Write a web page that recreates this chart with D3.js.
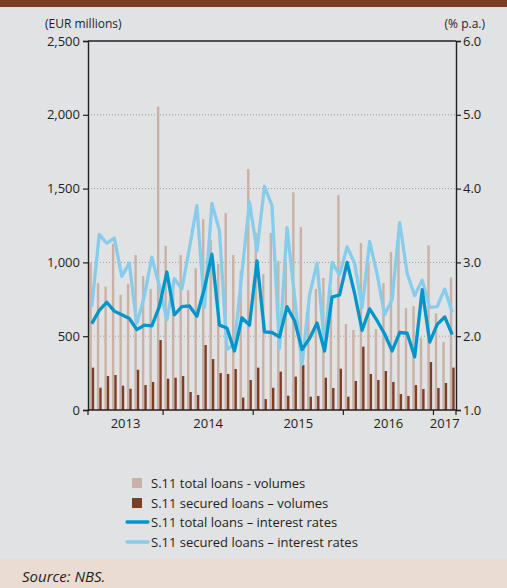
<!DOCTYPE html>
<html>
<head>
<meta charset="utf-8">
<script src="https://cdn.jsdelivr.net/npm/d3@7"></script>
<style>
  html, body { margin: 0; padding: 0; background: #e1e2e4; }
  svg { display: block; }
  text { font-family: "Open Sans", "Noto Sans", sans-serif; fill: #231f20; }
</style>
</head>
<body>
<svg id="chart" width="507" height="588"></svg>
<script>
// Monthly data, March 2013 – March 2017
const months = [
  "2013-03","2013-04","2013-05","2013-06","2013-07","2013-08","2013-09","2013-10","2013-11","2013-12",
  "2014-01","2014-02","2014-03","2014-04","2014-05","2014-06","2014-07","2014-08","2014-09","2014-10","2014-11","2014-12",
  "2015-01","2015-02","2015-03","2015-04","2015-05","2015-06","2015-07","2015-08","2015-09","2015-10","2015-11","2015-12",
  "2016-01","2016-02","2016-03","2016-04","2016-05","2016-06","2016-07","2016-08","2016-09","2016-10","2016-11","2016-12",
  "2017-01","2017-02","2017-03"
];

// S.11 total loans - volumes (EUR millions)
const totalVolumes = [
  1000, 860, 835, 1125, 780, 855, 1050, 907, 820, 2054,
  1112, 880, 1050, 812, 960, 1294, 1150, 990, 1335, 1050, 945, 1632,
  1200, 921, 1200, 1010, 1000, 1475, 1240, 700, 820, 895, 813, 1456,
  582, 542, 1132, 1000, 548, 860, 1070, 1150, 690, 704, 489, 1116,
  655, 460, 898
];

// S.11 secured loans – volumes (EUR millions)
const securedVolumes = [
  287, 151, 230, 237, 165, 144, 273, 169, 190, 474,
  212, 219, 230, 122, 102, 440, 345, 250, 244, 278, 84, 203,
  287, 74, 151, 260, 97, 226, 305, 90, 95, 219, 149, 280,
  90, 196, 429, 244, 203, 264, 190, 108, 95, 169, 142, 325,
  149, 183, 287
];

// S.11 total loans – interest rates (% p.a.)
const totalRates = [
  2.17, 2.35, 2.46, 2.34, 2.29, 2.24, 2.09, 2.15, 2.14, 2.40,
  2.87, 2.29, 2.40, 2.41, 2.27, 2.65, 3.11, 2.15, 2.11, 1.80, 2.25, 2.15,
  3.02, 2.06, 2.05, 1.99, 2.40, 2.21, 1.82, 1.97, 2.18, 1.80, 2.53, 2.56,
  3.00, 2.58, 2.08, 2.37, 2.21, 2.03, 1.80, 2.05, 2.04, 1.72, 2.63, 1.92,
  2.16, 2.26, 2.02
];

// S.11 secured loans – interest rates (% p.a.)
const securedRates = [
  2.40, 3.38, 3.26, 3.33, 2.81, 2.99, 2.17, 2.54, 3.07, 2.68,
  2.22, 2.78, 2.64, 3.19, 3.77, 2.39, 3.80, 3.43, 1.82, 1.89, 2.86, 3.82,
  3.16, 4.03, 3.77, 1.83, 3.47, 2.54, 1.62, 2.56, 2.99, 1.88, 3.00, 2.83,
  3.21, 2.99, 2.39, 3.28, 2.84, 2.29, 2.50, 3.54, 2.85, 2.55, 2.76, 2.39,
  2.40, 2.64, 2.32
];

const leftTicks = [0, 500, 1000, 1500, 2000, 2500];
const rightTicks = [1, 2, 3, 4, 5, 6];
const yearLabels = ["2013", "2014", "2015", "2016", "2017"];

const legendItems = [
  { label: "S.11 total loans - volumes", kind: "box", color: "#c9b2a5" },
  { label: "S.11 secured loans – volumes", kind: "box", color: "#7b3f27" },
  { label: "S.11 total loans – interest rates", kind: "line", color: "#0096cb" },
  { label: "S.11 secured loans – interest rates", kind: "line", color: "#87cdeb" }
];

const colors = {
  total: "#c9b2a5",
  secured: "#7b3f27",
  totalRate: "#0096cb",
  securedRate: "#87cdeb",
  ink: "#231f20",
  grid: "#9d9d9f"
};

const W = 507, H = 588;
const plot = { left: 88, right: 456, top: 41, bottom: 410 };

const svg = d3.select("#chart");

// page background, header strip and source strip
svg.append("rect").attr("x", 0).attr("y", 0).attr("width", W).attr("height", H).attr("fill", "#e1e2e4");
svg.append("rect").attr("x", 0).attr("y", 0).attr("width", W).attr("height", 7).attr("fill", "#7a3e26");
svg.append("rect").attr("x", 0).attr("y", 559).attr("width", W).attr("height", H - 559).attr("fill", "#eadcd3");

// scales
const x = d3.scaleBand().domain(months).range([plot.left, plot.right]).paddingInner(0.36).paddingOuter(0.18);
const xSub = d3.scaleBand().domain(["total", "secured"]).range([0, x.bandwidth()]).padding(0);
const yL = d3.scaleLinear().domain([0, 2500]).range([plot.bottom, plot.top]);
const yR = d3.scaleLinear().domain([1, 6]).range([plot.bottom, plot.top]);

// dotted grid
svg.append("g").selectAll("line")
  .data(leftTicks.filter(d => d > 0 && d < 2500))
  .join("line")
  .attr("x1", plot.left).attr("x2", plot.right)
  .attr("y1", d => yL(d)).attr("y2", d => yL(d))
  .attr("stroke", colors.grid).attr("stroke-width", 1)
  .attr("stroke-dasharray", "1,2");

// volume bars
const rows = months.map((m, i) => ({
  m, total: totalVolumes[i], secured: securedVolumes[i],
  tr: totalRates[i], sr: securedRates[i]
}));

svg.append("g").selectAll("rect")
  .data(rows).join("rect")
  .attr("x", d => x(d.m) + xSub("total"))
  .attr("width", xSub.bandwidth())
  .attr("y", d => yL(d.total))
  .attr("height", d => yL(0) - yL(d.total))
  .attr("fill", colors.total);

svg.append("g").selectAll("rect")
  .data(rows).join("rect")
  .attr("x", d => x(d.m) + xSub("secured"))
  .attr("width", xSub.bandwidth())
  .attr("y", d => yL(d.secured))
  .attr("height", d => yL(0) - yL(d.secured))
  .attr("fill", colors.secured);

// interest-rate lines
const cx = d => x(d.m) + x.bandwidth() / 2;
const lineSecured = d3.line().x(cx).y(d => yR(d.sr));
const lineTotal = d3.line().x(cx).y(d => yR(d.tr));

svg.append("path").datum(rows).attr("d", lineSecured)
  .attr("fill", "none").attr("stroke", colors.securedRate)
  .attr("stroke-width", 3.3).attr("stroke-linejoin", "round");
svg.append("path").datum(rows).attr("d", lineTotal)
  .attr("fill", "none").attr("stroke", colors.totalRate)
  .attr("stroke-width", 3.3).attr("stroke-linejoin", "round");

// axes
const fontSize = "13px";
const leftAxis = svg.append("g").attr("transform", `translate(${plot.left},0)`)
  .call(d3.axisLeft(yL).tickValues(leftTicks).tickFormat(d3.format(",")).tickSize(5).tickPadding(3));
const rightAxis = svg.append("g").attr("transform", `translate(${plot.right},0)`)
  .call(d3.axisRight(yR).tickValues(rightTicks).tickFormat(d3.format(".1f")).tickSize(5).tickPadding(2));
[leftAxis, rightAxis].forEach(g => {
  g.selectAll("path.domain").attr("stroke", colors.ink).attr("stroke-width", 1.4);
  g.selectAll(".tick line").attr("stroke", colors.ink).attr("stroke-width", 1.2);
  g.selectAll("text").attr("font-size", fontSize).attr("fill", colors.ink)
    .style("font-family", "'Open Sans', sans-serif");
});

// frame top and bottom
svg.append("line").attr("x1", plot.left).attr("x2", plot.right)
  .attr("y1", plot.top).attr("y2", plot.top)
  .attr("stroke", colors.ink).attr("stroke-width", 1.4);
svg.append("line").attr("x1", plot.left).attr("x2", plot.right)
  .attr("y1", plot.bottom).attr("y2", plot.bottom)
  .attr("stroke", colors.ink).attr("stroke-width", 1.4);

// year boundaries on the time axis
const gap = x.step() * x.paddingInner() / 2;
const boundaryOf = m => x(m) - gap;
const bounds = [
  plot.left,
  boundaryOf("2014-01"), boundaryOf("2015-01"), boundaryOf("2016-01"), boundaryOf("2017-01"),
  plot.right
];
svg.append("g").selectAll("line")
  .data(bounds).join("line")
  .attr("x1", d => d).attr("x2", d => d)
  .attr("y1", plot.bottom).attr("y2", plot.bottom + 5)
  .attr("stroke", colors.ink).attr("stroke-width", 1.2);

svg.append("g").selectAll("text")
  .data(yearLabels).join("text")
  .attr("x", (d, i) => (bounds[i] + bounds[i + 1]) / 2)
  .attr("y", 428)
  .attr("text-anchor", "middle")
  .attr("font-size", fontSize)
  .text(d => d);

// unit labels
svg.append("text").attr("x", 45).attr("y", 28).attr("font-size", "12px").text("(EUR millions)");
svg.append("text").attr("x", 485).attr("y", 28).attr("font-size", "12px")
  .attr("text-anchor", "end").text("(% p.a.)");

// legend
const lg = svg.append("g");
const rowY = [483, 503, 522, 542];
legendItems.forEach((it, i) => {
  const y = rowY[i];
  if (it.kind === "box") {
    lg.append("rect").attr("x", 132).attr("y", y - 5).attr("width", 10).attr("height", 10).attr("fill", it.color);
  } else {
    lg.append("line").attr("x1", 127).attr("x2", 148).attr("y1", y).attr("y2", y)
      .attr("stroke", it.color).attr("stroke-width", 3.3).attr("stroke-linecap", "round");
  }
  lg.append("text").attr("x", 151).attr("y", y).attr("dy", "0.35em")
    .attr("font-size", fontSize).text(it.label);
});

// source note
svg.append("text").attr("x", 22).attr("y", 582)
  .attr("font-size", "15px").attr("font-style", "italic").text("Source: NBS.");
</script>
</body>
</html>
